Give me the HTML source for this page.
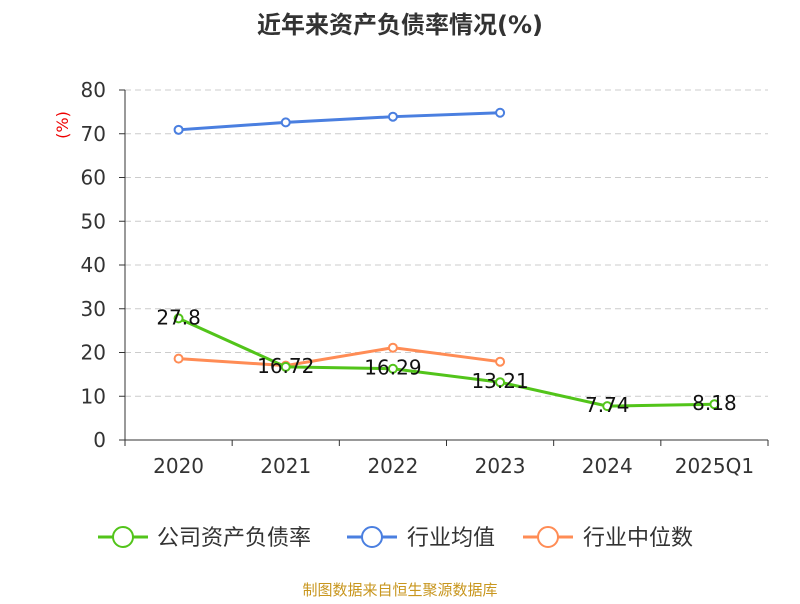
<!DOCTYPE html>
<html><head><meta charset="utf-8"><style>
body{margin:0;background:#fff;width:800px;height:600px;overflow:hidden;font-family:"DejaVu Sans","Noto Sans CJK SC",sans-serif}
</style></head><body>
<svg width="800" height="600" id="c" font-family="DejaVu Sans, Noto Sans CJK SC, sans-serif">
<text x="400" y="33" text-anchor="middle" font-size="24" font-weight="bold" fill="#333">近年来资产负债率情况(%)</text>
<text x="68" y="125" text-anchor="middle" font-size="16" fill="#e00" transform="rotate(-90 68 125)">(%)</text>
<g id="grid"></g><g id="axes"></g><g id="series"></g>
<g>
<g><line x1="98" y1="537" x2="148" y2="537" stroke="#52c41a" stroke-width="3"/><circle cx="123" cy="537" r="10" fill="#fff" stroke="#52c41a" stroke-width="2"/><text x="157" y="545" font-size="22" fill="#333">公司资产负债率</text></g>
<g><line x1="347" y1="537" x2="397" y2="537" stroke="#4a7fe0" stroke-width="3"/><circle cx="372" cy="537" r="10" fill="#fff" stroke="#4a7fe0" stroke-width="2"/><text x="407" y="545" font-size="22" fill="#333">行业均值</text></g>
<g><line x1="523" y1="537" x2="573" y2="537" stroke="#ff8c55" stroke-width="3"/><circle cx="548" cy="537" r="10" fill="#fff" stroke="#ff8c55" stroke-width="2"/><text x="583" y="545" font-size="22" fill="#333">行业中位数</text></g>
</g>
<text x="400" y="595" text-anchor="middle" font-size="15" fill="#c8961e">制图数据来自恒生聚源数据库</text>
</svg>
<script>
const categories=["2020","2021","2022","2023","2024","2025Q1"];
const companyValues=[27.8,16.72,16.29,13.21,7.74,8.18];
const avgValues=[70.9,72.6,73.9,74.8];
const medianValues=[18.6,17.0,21.1,17.9];
const yTicks=[0,10,20,30,40,50,60,70,80];
const NS="http://www.w3.org/2000/svg";
const x0=125,x1=768,yb=440,yt=90,ymax=80;
const bw=(x1-x0)/categories.length;
const X=i=>x0+bw*(i+0.5);
const Y=v=>yb-(v/ymax)*(yb-yt);
function mk(p,t,a){const e=document.createElementNS(NS,t);for(const k in a)e.setAttribute(k,a[k]);p.appendChild(e);return e;}
const grid=document.getElementById('grid'),axes=document.getElementById('axes'),ser=document.getElementById('series');
yTicks.forEach(v=>{
 if(v>0){const l=mk(grid,'line',{x1:x0,x2:x1,y1:Y(v),y2:Y(v),stroke:'#ccc','stroke-dasharray':'6,4'});
 
 }
 const t=mk(axes,'text',{x:106,y:Y(v)+7,'text-anchor':'end','font-size':20,fill:'#333'});t.textContent=v;
 
 
 mk(axes,'line',{x1:x0-6,x2:x0,y1:Y(v),y2:Y(v),stroke:'#333'});
});
mk(axes,'line',{x1:x0,x2:x0,y1:yt,y2:yb,stroke:'#333'});
mk(axes,'line',{x1:x0,x2:x1,y1:yb,y2:yb,stroke:'#333'});
categories.forEach((c,i)=>{
 mk(axes,'line',{x1:x0+bw*i,x2:x0+bw*i,y1:yb,y2:yb+6,stroke:'#333'});
 const t=mk(axes,'text',{x:X(i),y:473,'text-anchor':'middle','font-size':20,fill:'#333'});t.textContent=c;
 
 
});
mk(axes,'line',{x1:x1,x2:x1,y1:yb,y2:yb+6,stroke:'#333'});
function series(vals,color,name,labels){
 const g=mk(ser,'g',{});
 
 
 mk(g,'polyline',{points:vals.map((v,i)=>X(i)+','+Y(v)).join(' '),fill:'none',stroke:color,'stroke-width':3});
 vals.forEach((v,i)=>{
  const c=mk(g,'circle',{cx:X(i),cy:Y(v),r:4,fill:'#fff',stroke:color,'stroke-width':2});
  
  
  if(labels){const t=mk(g,'text',{x:X(i),y:Y(v)+6,'text-anchor':'middle','font-size':20,fill:'#111'});t.textContent=v;
  
  }
 });
}
series(avgValues,'#4a7fe0','industry-avg-line',false);
series(medianValues,'#ff8c55','industry-median-line',false);
series(companyValues,'#52c41a','company-line',true);
</script>
</body></html>
